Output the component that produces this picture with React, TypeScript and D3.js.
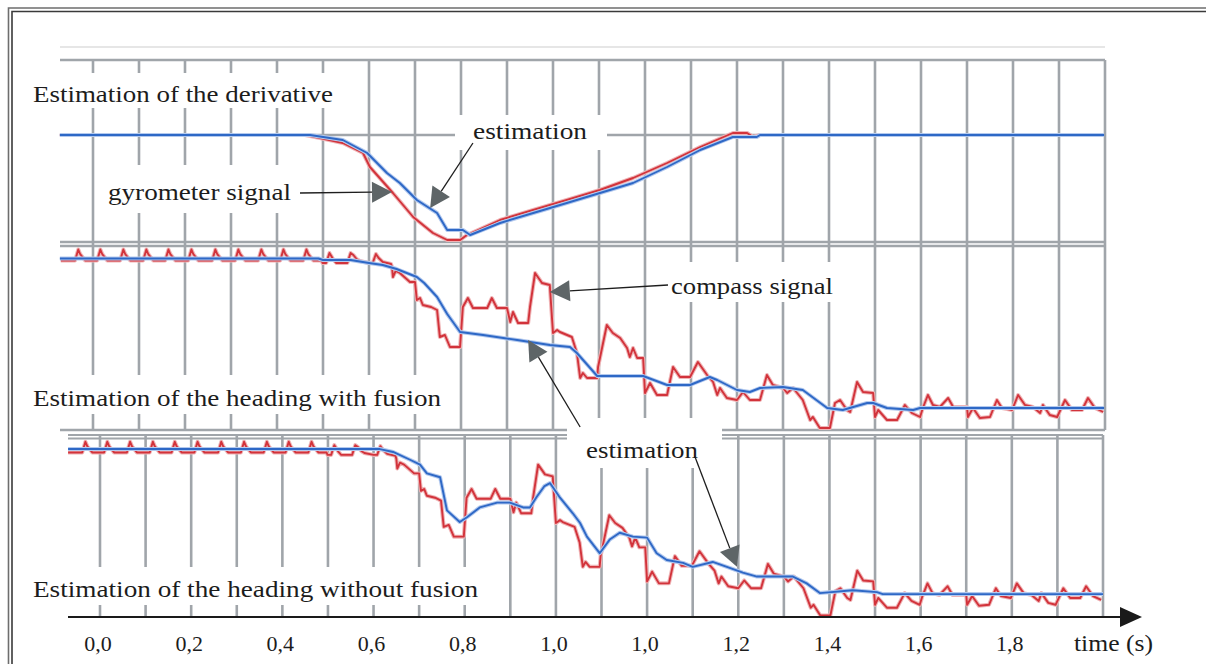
import React, { useEffect, useRef } from 'react';
import * as d3 from 'd3';

type Pt = [number, number];

// time (s), derivative (deg/s)
const gyroSignal: Pt[] = [
  [-0.072, 0], [0.461, 0], [0.493, -1.5], [0.543, -4], [0.587, -9], [0.602, -16], [0.652, -29],
  [0.696, -41], [0.739, -49], [0.770, -52.5], [0.798, -52.5], [0.813, -50], [0.885, -42.5],
  [0.957, -37.5], [1.030, -32.5], [1.102, -27.5], [1.174, -21.5], [1.248, -14], [1.320, -6],
  [1.391, 1], [1.422, 1], [1.435, -1], [1.45, 0],
];
const derivEstimate: Pt[] = [
  [-0.072, 0], [0.472, 0], [0.543, -2.5], [0.596, -9], [0.639, -19], [0.667, -24], [0.704, -32.5],
  [0.748, -39], [0.770, -47.5], [0.804, -47.5], [0.820, -50], [0.885, -44], [0.957, -39],
  [1.030, -34], [1.102, -29], [1.174, -24], [1.248, -16], [1.320, -7.5], [1.391, -1],
  [1.443, -1], [1.450, 0], [2.198, 0],
];

// time (s), heading (deg)
const compassSignal: Pt[] = [
  [-0.07, -0.15],
  [-0.039, -0.15], [-0.032, 0.95], [-0.028, 0.5], [-0.023, 0.2], [-0.017, -0.15],
  [0.009, -0.15], [0.016, 0.95], [0.020, 0.5], [0.025, 0.2], [0.031, -0.15],
  [0.059, -0.15], [0.066, 0.95], [0.070, 0.5], [0.075, 0.2], [0.081, -0.15],
  [0.109, -0.15], [0.116, 0.95], [0.120, 0.5], [0.125, 0.2], [0.131, -0.15],
  [0.157, -0.15], [0.164, 0.95], [0.168, 0.5], [0.173, 0.2], [0.179, -0.15],
  [0.207, -0.15], [0.214, 0.95], [0.218, 0.5], [0.223, 0.2], [0.229, -0.15],
  [0.259, -0.15], [0.266, 0.95], [0.270, 0.5], [0.275, 0.2], [0.281, -0.15],
  [0.309, -0.15], [0.316, 0.95], [0.320, 0.5], [0.325, 0.2], [0.331, -0.15],
  [0.359, -0.15], [0.366, 0.95], [0.370, 0.5], [0.375, 0.2], [0.381, -0.15],
  [0.407, -0.15], [0.414, 0.95], [0.418, 0.5], [0.423, 0.2], [0.429, -0.15],
  [0.457, -0.15], [0.464, 0.95], [0.468, 0.5], [0.473, 0.2], [0.479, -0.15],
  [0.497, -0.15], [0.499, -0.4],
  [0.507, -0.4], [0.514, 0.6], [0.518, 0.3], [0.523, -0.1], [0.529, -0.4],
  [0.553, -0.4], [0.560, 0.6], [0.566, 0.4], [0.573, 0.0], [0.580, -0.2], [0.600, -0.4],
  [0.608, -0.4], [0.615, 0.5], [0.621, 0.1], [0.630, -0.3], [0.648, -0.5], [0.650, -0.8],
  [0.652, -1.8], [0.658, -1.2], [0.667, -1.4], [0.689, -2.3], [0.700, -2.3], [0.704, -4.1],
  [0.711, -3.9], [0.717, -4.6], [0.735, -4.8], [0.748, -5.1], [0.754, -7.8], [0.765, -7.6],
  [0.776, -8.8], [0.798, -8.8], [0.804, -4.8], [0.815, -3.9], [0.826, -4.9], [0.857, -4.9],
  [0.867, -3.9], [0.878, -4.9], [0.900, -4.9], [0.907, -6.3], [0.913, -5.3], [0.924, -6.4],
  [0.946, -6.4], [0.950, -4.8], [0.961, -1.4], [0.976, -2.4], [0.993, -2.6], [1.000, -7.4],
  [1.009, -7.1], [1.015, -7.3], [1.041, -7.8], [1.052, -9.4], [1.059, -11.9], [1.065, -11.4],
  [1.074, -11.9], [1.096, -11.9], [1.098, -10.8], [1.117, -6.6], [1.130, -7.4], [1.146, -7.9],
  [1.161, -8.9], [1.167, -9.8], [1.174, -8.9], [1.183, -9.9], [1.196, -9.9], [1.200, -13.4],
  [1.211, -12.4], [1.226, -13.6], [1.248, -13.6], [1.261, -10.8], [1.276, -11.8], [1.298, -11.8],
  [1.315, -10.3], [1.335, -11.6], [1.348, -12.3], [1.357, -13.6], [1.363, -12.9], [1.378, -13.9],
  [1.400, -14.1], [1.413, -13.3], [1.428, -14.1], [1.450, -14.1], [1.465, -11.6], [1.478, -12.6],
  [1.500, -12.9], [1.509, -13.4], [1.522, -12.9], [1.543, -14.1], [1.559, -16.1], [1.565, -15.8],
  [1.580, -16.9], [1.602, -16.9], [1.613, -14.4], [1.624, -14.1], [1.639, -15.1], [1.646, -15.3],
  [1.661, -12.3], [1.674, -13.3], [1.696, -13.4], [1.700, -15.8], [1.707, -15.1], [1.726, -16.1],
  [1.748, -16.1], [1.765, -14.6], [1.780, -15.4], [1.798, -15.8], [1.804, -14.9], [1.815, -13.6],
  [1.826, -14.6], [1.841, -14.8], [1.859, -13.9], [1.870, -14.8], [1.900, -14.8], [1.902, -15.8],
  [1.913, -14.9], [1.928, -15.9], [1.950, -15.8], [1.965, -14.1], [1.976, -14.9], [1.998, -15.1],
  [2.011, -13.6], [2.026, -14.6], [2.043, -14.8], [2.059, -15.4], [2.065, -14.6], [2.080, -15.6],
  [2.096, -15.8], [2.113, -14.1], [2.128, -15.1], [2.150, -15.1], [2.163, -13.9], [2.178, -14.9],
  [2.196, -15.3],
];
const fusionEstimate: Pt[] = [
  [-0.072, 0.05], [0.49, 0.05], [0.50, -0.1], [0.56, -0.1], [0.60, -0.4], [0.630, -0.6],
  [0.66, -1.0], [0.704, -1.8], [0.72, -2.4], [0.748, -3.8], [0.77, -5.5], [0.798, -7.3],
  [0.848, -7.6], [0.922, -8.1], [0.993, -8.6], [1.037, -8.8], [1.052, -9.4], [1.075, -10.6],
  [1.096, -11.7], [1.196, -11.7], [1.248, -12.6], [1.298, -12.6], [1.341, -11.8], [1.357, -12.1],
  [1.400, -13.1], [1.428, -13.3], [1.450, -12.9], [1.500, -12.8], [1.543, -13.1], [1.596, -14.9],
  [1.630, -15.1], [1.683, -14.4], [1.696, -14.4], [1.726, -14.9], [1.783, -15.1], [1.798, -14.9],
  [2.198, -14.9],
];
const noFusionEstimate: Pt[] = [
  [-0.070, 0.2], [0.614, 0.2], [0.643, -0.1], [0.680, -0.9], [0.702, -1.4], [0.717, -2.3],
  [0.746, -2.7], [0.761, -6.1], [0.789, -7.3], [0.805, -6.8], [0.833, -5.8], [0.871, -5.3],
  [0.899, -5.3], [0.928, -5.8], [0.943, -5.8], [0.958, -4.7], [0.975, -3.6], [0.987, -3.3],
  [0.993, -3.7], [1.009, -4.8], [1.037, -6.4], [1.053, -7.4], [1.068, -8.8], [1.096, -10.5],
  [1.118, -9.1], [1.140, -8.4], [1.169, -8.8], [1.200, -8.9], [1.221, -10.5], [1.243, -11.2],
  [1.279, -11.5], [1.300, -11.9], [1.344, -11.4], [1.375, -11.9], [1.410, -12.5], [1.441, -12.9],
  [1.520, -12.9], [1.550, -13.6], [1.579, -14.6], [1.651, -14.3], [1.704, -14.5], [1.717, -14.7],
  [2.200, -14.7],
];

const tickValues = [0, 0.2, 0.4, 0.6, 0.8, 1.0, 1.2, 1.4, 1.6, 1.8, 2.0];
const tickLabels = ['0,0', '0,2', '0,4', '0,6', '0,8', '1,0', '1,0', '1,2', '1,4', '1,6', '1,8'];

const RED = '#d2333b';
const RED_HALO = '#efb4b6';
const BLUE = '#2e68c6';
const BLUE_HALO = '#b3c9ee';
const GRID = '#a0a5aa';
const FONT = '"Liberation Serif", "Times New Roman", serif';

const App = () => {
  const svgRef = useRef<SVGSVGElement>(null);

  useEffect(() => {
    const svg = d3.select(svgRef.current);
    svg.selectAll('*').remove();

    const xTop = d3.scaleLinear().domain([0, 2.2]).range([93, 1105]);
    const xBot = d3.scaleLinear().domain([0, 2.2]).range([100, 1103]);
    const yDeriv = d3.scaleLinear().domain([0, -50]).range([135, 235]);
    const yFusion = d3.scaleLinear().domain([0, -15]).range([259, 409]);
    const yNoFusion = d3.scaleLinear().domain([0, -15]).range([451, 597]);

    // outer double frame
    const frame = svg.append('g').attr('fill', 'none');
    frame.append('path').attr('d', 'M1206,8 H8.5 V664').attr('stroke', '#6e6e6e').attr('stroke-width', 1.6);
    frame.append('path').attr('d', 'M1206,11.5 H12 V664').attr('stroke', '#3a3a3a').attr('stroke-width', 1.6);

    // grid
    const grid = svg.append('g').attr('stroke', GRID).attr('stroke-width', 2.6);
    svg.append('line').attr('x1', 60).attr('x2', 1105).attr('y1', 47).attr('y2', 47)
      .attr('stroke', '#cdcdcd').attr('stroke-width', 1.2);
    xTop.ticks(22).forEach(t => {
      grid.append('line').attr('x1', xTop(t)).attr('x2', xTop(t)).attr('y1', 60).attr('y2', 430);
    });
    xBot.ticks(22).forEach(t => {
      grid.append('line').attr('x1', xBot(t)).attr('x2', xBot(t)).attr('y1', 435).attr('y2', 617);
    });
    [60, yDeriv(0), 242, 246, 430].forEach(y => {
      grid.append('line').attr('x1', 60).attr('x2', 1105).attr('y1', y).attr('y2', y);
    });
    [435, 438.5].forEach(y => {
      grid.append('line').attr('x1', 68).attr('x2', 1103).attr('y1', y).attr('y2', y).attr('stroke-width', 2);
    });

    // white boxes behind the labels
    const masks = [
      [28, 73, 312, 35], [100, 165, 200, 48], [455, 115, 152, 35], [658, 262, 187, 40],
      [28, 375, 424, 39], [567, 418, 155, 50], [28, 567, 459, 38],
    ];
    masks.forEach(([x, y, w, h]) => {
      svg.append('rect').attr('x', x).attr('y', y).attr('width', w).attr('height', h).attr('fill', '#fff');
    });

    const drawSignal = (data: Pt[], x: d3.ScaleLinear<number, number>, y: d3.ScaleLinear<number, number>, color: string, halo: string) => {
      const line = d3.line<Pt>().x(d => x(d[0])).y(d => y(d[1]));
      svg.append('path').attr('d', line(data)).attr('fill', 'none').attr('stroke', halo)
        .attr('stroke-width', 4).attr('stroke-linejoin', 'round');
      svg.append('path').attr('d', line(data)).attr('fill', 'none').attr('stroke', color)
        .attr('stroke-width', 1.9).attr('stroke-linejoin', 'round');
    };

    drawSignal(gyroSignal, xTop, yDeriv, RED, RED_HALO);
    drawSignal(derivEstimate, xTop, yDeriv, BLUE, BLUE_HALO);
    drawSignal(compassSignal, xTop, yFusion, RED, RED_HALO);
    drawSignal(fusionEstimate, xTop, yFusion, BLUE, BLUE_HALO);
    drawSignal(compassSignal, xBot, yNoFusion, RED, RED_HALO);
    drawSignal(noFusionEstimate, xBot, yNoFusion, BLUE, BLUE_HALO);

    // labels
    const labels: [string, number, number, number][] = [
      ['Estimation of the derivative', 33, 101.5, 300],
      ['estimation', 473, 138.5, 114],
      ['gyrometer signal', 108, 200, 183],
      ['compass signal', 671, 294, 162],
      ['Estimation of the heading with fusion', 33, 405.5, 408],
      ['estimation', 586, 458, 112],
      ['Estimation of the heading without fusion', 33, 597, 445],
    ];
    labels.forEach(([txt, x, y, w]) => {
      svg.append('text').attr('x', x).attr('y', y).attr('textLength', w)
        .attr('lengthAdjust', 'spacingAndGlyphs')
        .style('font-family', FONT).style('font-size', '24px').style('fill', '#1c1c1c')
        .text(txt);
    });

    // annotation arrows
    const arrow = (tail: Pt, tip: Pt) => {
      const dx = tip[0] - tail[0];
      const dy = tip[1] - tail[1];
      const L = Math.hypot(dx, dy);
      const ux = dx / L, uy = dy / L;
      const len = 20, half = 10.5;
      const bx = tip[0] - ux * len, by = tip[1] - uy * len;
      svg.append('line').attr('x1', tail[0]).attr('y1', tail[1]).attr('x2', bx).attr('y2', by)
        .attr('stroke', '#1e1e1e').attr('stroke-width', 1.3);
      svg.append('polygon')
        .attr('points', [[tip[0], tip[1]], [bx - uy * half, by + ux * half], [bx + uy * half, by - ux * half]]
          .map(p => p.join(',')).join(' '))
        .attr('fill', '#5e6567');
    };
    const at = (x: d3.ScaleLinear<number, number>, y: d3.ScaleLinear<number, number>, p: Pt): Pt => [x(p[0]), y(p[1])];
    arrow(at(xTop, yDeriv, [0.45, -29]), at(xTop, yDeriv, [0.65, -28.5]));
    arrow(at(xTop, yDeriv, [0.826, -4]), at(xTop, yDeriv, [0.733, -36.5]));
    arrow(at(xTop, yFusion, [1.25, -2.6]), at(xTop, yFusion, [0.993, -3.3]));
    arrow(at(xTop, yFusion, [1.059, -16.8]), at(xTop, yFusion, [0.946, -8.1]));
    arrow(at(xBot, yNoFusion, [1.305, -0.6]), at(xBot, yNoFusion, [1.397, -11.9]));

    // time axis
    svg.append('line').attr('x1', 68).attr('x2', 1124).attr('y1', 617).attr('y2', 617)
      .attr('stroke', '#1a1a1a').attr('stroke-width', 2);
    svg.append('polygon').attr('points', '1120,607 1142,617 1120,627').attr('fill', '#1a1a1a');

    tickValues.forEach((t, i) => {
      svg.append('text').attr('x', xBot(t) - 2).attr('y', 651).attr('text-anchor', 'middle')
        .style('font-family', FONT).style('font-size', '22px').style('fill', '#1c1c1c')
        .text(tickLabels[i]);
    });
    svg.append('text').attr('x', 1074).attr('y', 651).attr('textLength', 79)
      .attr('lengthAdjust', 'spacingAndGlyphs')
      .style('font-family', FONT).style('font-size', '23px').style('fill', '#1c1c1c')
      .text('time (s)');
  }, []);

  return (
    <svg ref={svgRef} width={1206} height={664}
      style={{ position: 'absolute', left: 0, top: 0, background: '#fff' }} />
  );
};

export default App;
